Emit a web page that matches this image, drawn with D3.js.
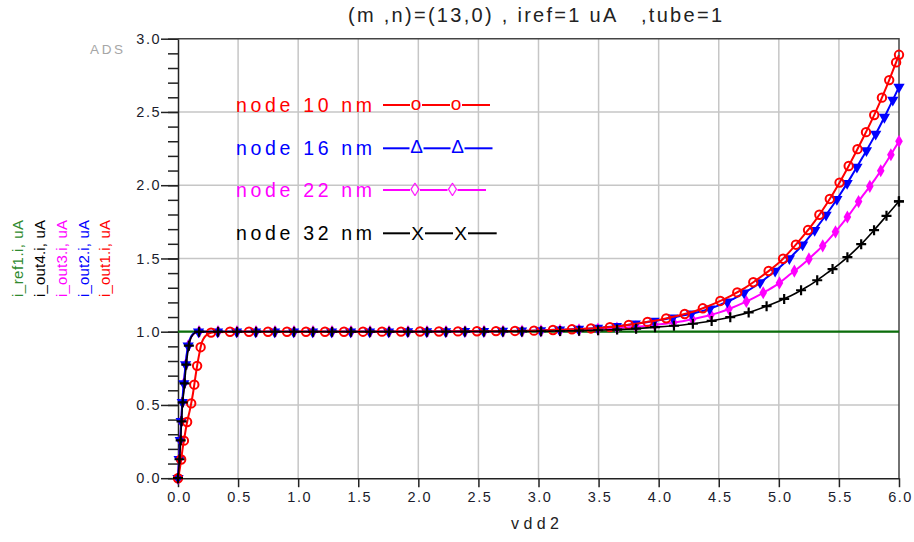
<!DOCTYPE html>
<html>
<head>
<meta charset="utf-8">
<script src="https://cdn.jsdelivr.net/npm/d3@7"></script>
<style>
  body { margin: 0; background: #fff; }
  text { font-family: "Liberation Sans", Arial, sans-serif; }
</style>
</head>
<body>
<svg id="chart" width="914" height="542"></svg>
<script>
// sweep points (V)
const vdd2 = [0, 0.01, 0.02, 0.03, 0.04, 0.05, 0.06, 0.075, 0.1, 0.125, 0.15, 0.175, 0.2, 0.25, 0.3,
  0.5, 1.0, 1.5, 2.0, 2.5,
  3.0, 3.1, 3.2, 3.3, 3.4, 3.5, 3.6, 3.7, 3.8, 3.9,
  4.0, 4.1, 4.2, 4.3, 4.4, 4.5, 4.6, 4.7, 4.8, 4.9,
  5.0, 5.1, 5.2, 5.3, 5.4, 5.5, 5.6, 5.7, 5.8, 5.9, 6.0];

// currents (uA), node 10 nm
const iOut1 = [0, 0.04, 0.09, 0.15, 0.21, 0.26, 0.31, 0.38, 0.47, 0.58, 0.72, 0.84, 0.93, 0.985, 0.997,
  1.0, 1.0, 1.0, 1.001, 1.003,
  1.008, 1.011, 1.014, 1.017, 1.021, 1.025, 1.032, 1.041, 1.053, 1.066,
  1.08, 1.098, 1.117, 1.14, 1.17, 1.205, 1.245, 1.29, 1.345, 1.405,
  1.47, 1.555, 1.65, 1.755, 1.875, 2.01, 2.16, 2.32, 2.49, 2.68, 2.89];
// node 16 nm
const iOut2 = [0, 0.14, 0.28, 0.44, 0.57, 0.66, 0.75, 0.86, 0.95, 0.985, 0.997, 1.0, 1.0, 1.0, 1.0,
  1.0, 1.0, 1.0, 1.001, 1.003,
  1.008, 1.011, 1.014, 1.017, 1.021, 1.026, 1.033, 1.042, 1.053, 1.065,
  1.078, 1.093, 1.11, 1.128, 1.15, 1.18, 1.215, 1.26, 1.31, 1.37,
  1.435, 1.51, 1.595, 1.695, 1.805, 1.925, 2.055, 2.195, 2.34, 2.5, 2.67];
// node 22 nm
const iOut3 = [0, 0.12, 0.27, 0.43, 0.55, 0.65, 0.74, 0.85, 0.945, 0.98, 0.995, 1.0, 1.0, 1.0, 1.0,
  1.0, 1.0, 1.0, 1.0, 1.002,
  1.005, 1.007, 1.009, 1.011, 1.014, 1.018, 1.022, 1.027, 1.033, 1.041,
  1.05, 1.06, 1.072, 1.088, 1.107, 1.13, 1.16, 1.195, 1.235, 1.28,
  1.33, 1.395, 1.46, 1.535, 1.615, 1.71, 1.815, 1.93, 2.04, 2.165, 2.30];
// node 32 nm
const iOut4 = [0, 0.1, 0.22, 0.40, 0.53, 0.60, 0.70, 0.82, 0.94, 0.98, 0.995, 1.0, 1.0, 1.0, 1.0,
  1.0, 1.0, 1.0, 1.0, 1.001,
  1.003, 1.004, 1.005, 1.006, 1.008, 1.01, 1.013, 1.016, 1.02, 1.026,
  1.033, 1.039, 1.046, 1.056, 1.068, 1.083, 1.1, 1.12, 1.145, 1.175,
  1.208, 1.245, 1.29, 1.34, 1.40, 1.46, 1.53, 1.61, 1.70, 1.795, 1.89];
// reference current
const irefX = [0, 6.0];
const iRef1 = [1.0, 1.0];

const xTicks = [0, 0.5, 1.0, 1.5, 2.0, 2.5, 3.0, 3.5, 4.0, 4.5, 5.0, 5.5, 6.0];
const yTicks = [0, 0.5, 1.0, 1.5, 2.0, 2.5, 3.0];
const legendNames = ['node 10 nm', 'node 16 nm', 'node 22 nm', 'node 32 nm'];
const yLabelNames = ['i_ref1.i, uA', 'i_out4.i, uA', 'i_out3.i, uA', 'i_out2.i, uA', 'i_out1.i, uA'];

const svg = d3.select('#chart');

const pLeft = 178, pRight = 899, pTop = 38.7, pBottom = 478.2;
const x = d3.scaleLinear().domain([0, 6]).range([pLeft, pRight]);
const y = d3.scaleLinear().domain([0, 3]).range([pBottom, pTop]);

// grid
const grid = svg.append('g');
grid.selectAll('.vg').data(xTicks.slice(1, -1)).enter().append('line')
  .attr('x1', d => x(d)).attr('x2', d => x(d))
  .attr('y1', pTop).attr('y2', pBottom)
  .attr('stroke', '#c6c6c6').attr('stroke-width', 1.5);
grid.selectAll('.hg').data(yTicks.slice(1, -1)).enter().append('line')
  .attr('x1', pLeft).attr('x2', pRight)
  .attr('y1', d => y(d)).attr('y2', d => y(d))
  .attr('stroke', '#c6c6c6').attr('stroke-width', 1.5);

// frame top / right
svg.append('path')
  .attr('d', `M${pLeft},${pTop}H${pRight}V${pBottom}`)
  .attr('fill', 'none').attr('stroke', '#444').attr('stroke-width', 1.5);

// x axis
const xAxis = svg.append('g')
  .attr('transform', `translate(0,${pBottom})`)
  .call(d3.axisBottom(x).tickValues(xTicks).tickFormat(d3.format('.1f'))
    .tickSize(9).tickSizeOuter(0).tickPadding(5));
xAxis.select('.domain').attr('stroke', '#222').attr('stroke-width', 1.5);
xAxis.selectAll('line').attr('stroke', '#222').attr('stroke-width', 1.5);
xAxis.selectAll('text')
  .attr('font-size', 14.5).attr('fill', '#1c1c2c')
  .attr('dx', 1).style('letter-spacing', '1.5px')
  .style('font-family', '"Liberation Sans", Arial, sans-serif');

// y axis, minor ticks
const yMinor = svg.append('g')
  .attr('transform', `translate(${pLeft},0)`)
  .call(d3.axisLeft(y).tickValues(d3.range(0, 3.001, 0.1)).tickFormat('')
    .tickSize(10).tickSizeOuter(0));
yMinor.selectAll('line').attr('stroke', '#222').attr('stroke-width', 1.5);
yMinor.select('.domain').attr('stroke', '#222').attr('stroke-width', 1.5);

// y axis, major ticks with labels
const yAxis = svg.append('g')
  .attr('transform', `translate(${pLeft},0)`)
  .call(d3.axisLeft(y).tickValues(yTicks).tickFormat(d3.format('.1f'))
    .tickSize(17).tickSizeOuter(0).tickPadding(0));
yAxis.select('.domain').remove();
yAxis.selectAll('line').attr('stroke', '#222').attr('stroke-width', 1.5);
yAxis.selectAll('text')
  .attr('font-size', 14.5).attr('fill', '#1c1c2c')
  .style('letter-spacing', '1.5px')
  .style('font-family', '"Liberation Sans", Arial, sans-serif');

// curves
const line = d3.line()
  .x(d => x(d[0]))
  .y(d => y(d[1]))
  .curve(d3.curveMonotoneX);

const plot = svg.append('g');

plot.append('path')
  .attr('d', line(d3.zip(irefX, iRef1)))
  .attr('fill', 'none').attr('stroke', '#0b6e0b').attr('stroke-width', 2.2);

const series = [
  { vals: iOut3, color: '#ff00ff', marker: 'diamond', w: 2 },
  { vals: iOut2, color: '#0000ff', marker: 'tri', w: 2 },
  { vals: iOut1, color: '#ff0000', marker: 'circle', w: 2 },
  { vals: iOut4, color: '#000000', marker: 'plus', w: 1.6 }
];

function drawMarker(g, kind, px, py, color) {
  if (kind === 'circle') {
    g.append('circle').attr('cx', px).attr('cy', py).attr('r', 4.2)
      .attr('fill', 'none').attr('stroke', color).attr('stroke-width', 2);
  } else if (kind === 'tri') {
    g.append('path').attr('d', d3.symbol(d3.symbolTriangle, 55)())
      .attr('transform', `translate(${px},${py}) rotate(180)`)
      .attr('fill', color);
  } else if (kind === 'diamond') {
    g.append('path').attr('d', d3.symbol(d3.symbolDiamond, 50)())
      .attr('transform', `translate(${px},${py})`)
      .attr('fill', color);
  } else {
    g.append('path').attr('d', 'M-5,0H5M0,-5V5')
      .attr('transform', `translate(${px},${py})`)
      .attr('stroke', color).attr('stroke-width', 2.2);
  }
}

series.forEach(s => {
  const p = plot.append('path')
    .attr('d', line(d3.zip(vdd2, s.vals)))
    .attr('fill', 'none').attr('stroke', s.color).attr('stroke-width', s.w);
  const node = p.node();
  const total = node.getTotalLength();
  const mg = plot.append('g');
  // ADS puts symbols at even steps along the trace
  for (let l = 0; l <= total; l += 19) {
    const pt = node.getPointAtLength(l);
    drawMarker(mg, s.marker, pt.x, pt.y, s.color);
  }
  const end = node.getPointAtLength(total);
  drawMarker(mg, s.marker, end.x, end.y, s.color);
});

// legend
const legendColors = ['#ff0000', '#0000ff', '#ff00ff', '#000000'];
const legendY = [105, 148.3, 190, 233.3];
const legendGlyph = ['o', '\u0394', '\u25CA', 'X'];
const glyphDy = [5, 4.8, 5.5, 6.3];
const glyphHalf = [6, 7, 5, 7.5];
const glyphX = [[416, 456], [416.5, 457.5], [415, 452.5], [417.5, 460.5]];
const lineEnd = [490, 492.5, 486, 496.7];

legendNames.forEach((name, i) => {
  const g = svg.append('g');
  g.append('text')
    .attr('x', 236).attr('y', legendY[i] + 7)
    .attr('font-size', 19.5).attr('fill', legendColors[i])
    .attr('textLength', 136).attr('lengthAdjust', 'spacing')
    .text(name);
  const gx = glyphX[i], h = glyphHalf[i];
  const segs = [[383, gx[0] - h], [gx[0] + h, gx[1] - h], [gx[1] + h, lineEnd[i]]];
  segs.forEach(sg => {
    g.append('line')
      .attr('x1', sg[0]).attr('x2', sg[1])
      .attr('y1', legendY[i]).attr('y2', legendY[i])
      .attr('stroke', legendColors[i]).attr('stroke-width', 2);
  });
  gx.forEach(cx => {
    g.append('text')
      .attr('x', cx).attr('y', legendY[i] + glyphDy[i])
      .attr('text-anchor', 'middle')
      .attr('font-size', 19).attr('fill', legendColors[i])
      .text(legendGlyph[i]);
  });
});

// y labels (rotated)
const yLabelColors = ['#2f8a2f', '#000000', '#ff00ff', '#0000ff', '#ff0000'];
const yLabelX = [23, 45, 67, 89, 110];
yLabelNames.forEach((name, i) => {
  svg.append('text')
    .attr('transform', `translate(${yLabelX[i]},258.5) rotate(-90)`)
    .attr('text-anchor', 'middle')
    .attr('font-size', 15).attr('fill', yLabelColors[i])
    .attr('textLength', 77).attr('lengthAdjust', 'spacing')
    .text(name);
});

// title
svg.append('text')
  .attr('x', 348).attr('y', 22)
  .attr('font-size', 20).attr('fill', '#222')
  .attr('textLength', 374).attr('lengthAdjust', 'spacing')
  .style('white-space', 'pre')
  .text('(m ,n)=(13,0) , iref=1 uA   ,tube=1');

svg.append('text')
  .attr('x', 90).attr('y', 54)
  .attr('font-size', 13.5).attr('fill', '#a6a6a6')
  .attr('textLength', 33).attr('lengthAdjust', 'spacing')
  .text('ADS');

svg.append('text')
  .attr('x', 535).attr('y', 529)
  .attr('text-anchor', 'middle')
  .attr('font-size', 16).attr('fill', '#222')
  .attr('textLength', 48).attr('lengthAdjust', 'spacing')
  .text('vdd2');
</script>
</body>
</html>
